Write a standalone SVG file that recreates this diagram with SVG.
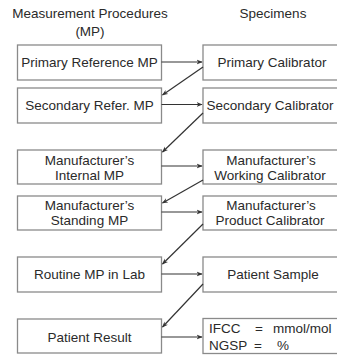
<svg xmlns="http://www.w3.org/2000/svg" width="337" height="355" viewBox="0 0 337 355">
  <style>
    .box { fill: #ffffff; stroke: #8a8a8a; stroke-width: 1.3; }
    .t { font-family: "Liberation Sans", Arial, sans-serif; font-size: 13.5px; fill: #2a2a2a; text-anchor: middle; }
    .tl { font-family: "Liberation Sans", Arial, sans-serif; font-size: 13.5px; fill: #2a2a2a; }
    .c { stroke: #333333; stroke-width: 1.2; fill: none; marker-end: url(#ah); }
  </style>
  <defs>
    <marker id="ah" viewBox="0 0 10 10" refX="9" refY="5" markerWidth="6" markerHeight="6" orient="auto" markerUnits="userSpaceOnUse">
      <path d="M0,1 L10,5 L0,9 L3,5 Z" fill="#333333"/>
    </marker>
  </defs>
  <rect width="337" height="355" fill="#ffffff"/>

  <g id="headers">
    <text class="t" x="90" y="18">Measurement Procedures</text>
    <text class="t" x="90" y="36">(MP)</text>
    <text class="t" x="273" y="18">Specimens</text>
  </g>

  <!-- measurement procedures column -->
  <g id="primary-reference-mp">
    <rect class="box" x="17.5" y="45" width="144" height="35"/>
    <text class="t" x="89.5" y="67">Primary Reference MP</text>
  </g>
  <g id="secondary-reference-mp">
    <rect class="box" x="17.5" y="88" width="144" height="35"/>
    <text class="t" x="89.5" y="110">Secondary Refer. MP</text>
  </g>
  <g id="manufacturer-internal-mp">
    <rect class="box" x="17.5" y="150" width="144" height="34"/>
    <text class="t" x="89.5" y="165">Manufacturer’s</text>
    <text class="t" x="89.5" y="179.5">Internal MP</text>
  </g>
  <g id="manufacturer-standing-mp">
    <rect class="box" x="17.5" y="196" width="144" height="34"/>
    <text class="t" x="89.5" y="210">Manufacturer’s</text>
    <text class="t" x="89.5" y="225">Standing MP</text>
  </g>
  <g id="routine-mp">
    <rect class="box" x="17.5" y="257" width="144" height="35"/>
    <text class="t" x="89.5" y="279">Routine MP in Lab</text>
  </g>
  <g id="patient-result">
    <rect class="box" x="17.5" y="319" width="144" height="34"/>
    <text class="t" x="89.5" y="342">Patient Result</text>
  </g>

  <!-- specimens column -->
  <g id="primary-calibrator">
    <rect class="box" x="203" y="45" width="140" height="35"/>
    <text class="t" x="272" y="67">Primary Calibrator</text>
  </g>
  <g id="secondary-calibrator">
    <rect class="box" x="203" y="88" width="140" height="35"/>
    <text class="t" x="270" y="110">Secondary Calibrator</text>
  </g>
  <g id="working-calibrator">
    <rect class="box" x="203" y="150" width="140" height="34"/>
    <text class="t" x="271" y="165">Manufacturer’s</text>
    <text class="t" x="270" y="179.5">Working Calibrator</text>
  </g>
  <g id="product-calibrator">
    <rect class="box" x="203" y="196" width="140" height="34"/>
    <text class="t" x="271" y="210">Manufacturer’s</text>
    <text class="t" x="270" y="225">Product Calibrator</text>
  </g>
  <g id="patient-sample">
    <rect class="box" x="203" y="257" width="140" height="35"/>
    <text class="t" x="273" y="279">Patient Sample</text>
  </g>
  <g id="result-units">
    <rect class="box" x="203" y="318.5" width="140" height="35"/>
    <text class="tl" y="333"><tspan x="209">IFCC</tspan><tspan x="255">=</tspan><tspan x="273">mmol/mol</tspan></text>
    <text class="tl" y="350"><tspan x="209">NGSP</tspan><tspan x="254">=</tspan><tspan x="277">%</tspan></text>
  </g>

  <g id="connectors">
    <line class="c" x1="161.5" y1="62" x2="202" y2="62"/>
    <line class="c" x1="203" y1="67" x2="162.5" y2="95"/>
    <line class="c" x1="161.5" y1="104.5" x2="202" y2="104.5"/>
    <line class="c" x1="203" y1="113" x2="162.5" y2="152"/>
    <line class="c" x1="161.5" y1="166" x2="202" y2="166"/>
    <line class="c" x1="203" y1="180" x2="162.5" y2="203"/>
    <line class="c" x1="161.5" y1="212" x2="202" y2="212"/>
    <line class="c" x1="203" y1="224" x2="162.5" y2="264"/>
    <line class="c" x1="161.5" y1="274" x2="202" y2="274"/>
    <line class="c" x1="203" y1="284" x2="162.5" y2="327"/>
    <line class="c" x1="161.5" y1="337" x2="202" y2="337"/>
  </g>
</svg>
